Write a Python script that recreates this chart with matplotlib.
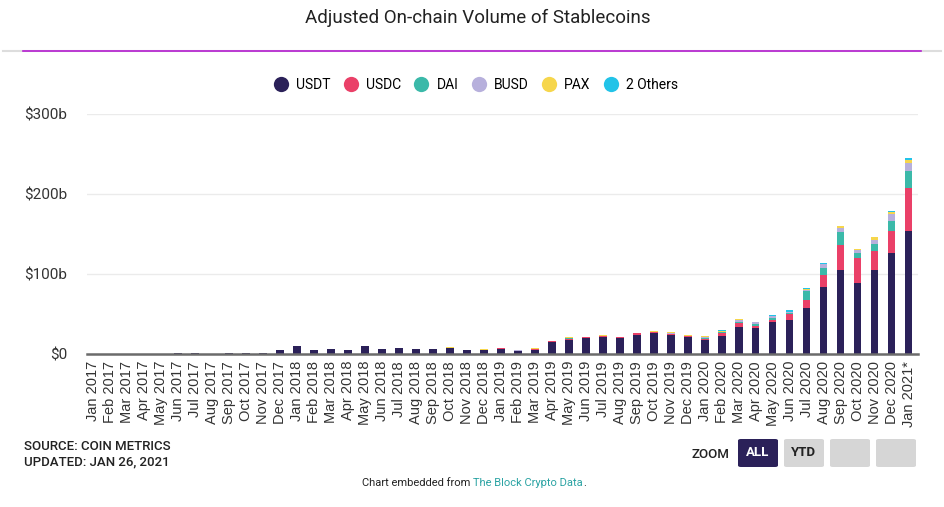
import matplotlib
matplotlib.use('Agg')
import matplotlib.pyplot as plt
from matplotlib.lines import Line2D
from matplotlib.patches import FancyBboxPatch
import numpy as np

plt.rcParams['font.family'] = ['Roboto', 'DejaVu Sans']

# months Jan 2017 .. Jan 2021 (partial)
months = ['Jan 2017', 'Feb 2017', 'Mar 2017', 'Apr 2017', 'May 2017', 'Jun 2017',
          'Jul 2017', 'Aug 2017', 'Sep 2017', 'Oct 2017', 'Nov 2017', 'Dec 2017',
          'Jan 2018', 'Feb 2018', 'Mar 2018', 'Apr 2018', 'May 2018', 'Jun 2018',
          'Jul 2018', 'Aug 2018', 'Sep 2018', 'Oct 2018', 'Nov 2018', 'Dec 2018',
          'Jan 2019', 'Feb 2019', 'Mar 2019', 'Apr 2019', 'May 2019', 'Jun 2019',
          'Jul 2019', 'Aug 2019', 'Sep 2019', 'Oct 2019', 'Nov 2019', 'Dec 2019',
          'Jan 2020', 'Feb 2020', 'Mar 2020', 'Apr 2020', 'May 2020', 'Jun 2020',
          'Jul 2020', 'Aug 2020', 'Sep 2020', 'Oct 2020', 'Nov 2020', 'Dec 2020',
          'Jan 2021*']

# volumes in $ billions
usdt = [0.05, 0.05, 0.05, 0.1, 0.1, 0.7, 0.7, 0.3, 0.7, 0.8, 0.8, 5.0,
        10.0, 5.0, 6.7, 5.0, 9.5, 6.7, 8.0, 6.7, 6.7, 8.0, 5.0, 4.6,
        6.0, 3.6, 5.5, 15.0, 18.0, 19.5, 21.0, 19.5, 24.0, 25.8, 24.0, 21.0,
        18.0, 22.0, 34.0, 33.0, 39.7, 42.7, 56.9, 83.7, 105.4, 88.3, 105.4, 126.0,
        154.0]
usdc = [0, 0, 0, 0, 0, 0, 0, 0, 0, 0, 0, 0,
        0, 0, 0, 0, 0, 0, 0, 0, 0, 0.1, 0.1, 0.4,
        1.0, 0.3, 1.2, 1.5, 1.3, 1.7, 1.5, 1.7, 1.8, 1.2, 1.0, 1.0,
        1.0, 4.0, 4.5, 2.5, 3.3, 7.1, 10.9, 15.0, 31.4, 31.7, 23.1, 28.0,
        54.0]
dai = [0, 0, 0, 0, 0, 0, 0, 0, 0, 0, 0, 0,
       0, 0, 0, 0, 0, 0, 0, 0, 0, 0, 0, 0,
       0.1, 0.2, 0.1, 0.1, 0.2, 0.1, 0.2, 0.1, 0.2, 0.5, 0.5, 0.5,
       1.0, 1.0, 2.0, 2.0, 2.6, 1.5, 10.4, 8.3, 15.5, 6.4, 8.7, 12.0,
       21.0]
busd = [0, 0, 0, 0, 0, 0, 0, 0, 0, 0, 0, 0,
        0, 0, 0, 0, 0, 0, 0, 0, 0, 0, 0, 0,
        0, 0.3, 0, 0, 0, 0, 0, 0, 0, 0, 0.2, 0.2,
        1.0, 1.0, 2.0, 2.0, 1.8, 1.0, 2.0, 5.0, 5.0, 3.3, 5.1, 9.0,
        9.5]
pax = [0, 0, 0, 0, 0, 0, 0, 0, 0, 0, 0, 0,
       0, 0, 0, 0, 0, 0, 0, 0, 0, 0.2, 0.1, 0.8,
       1.0, 0.5, 0.1, 0.1, 1.5, 0.1, 1.5, 0.1, 0.2, 1.5, 1.5, 1.3,
       1.5, 0.5, 1.5, 0.8, 0.5, 0.5, 1.4, 0.5, 2.1, 1.5, 4.1, 2.4,
       4.2]
others = [0, 0, 0, 0, 0, 0, 0, 0, 0, 0, 0, 0,
          0, 0, 0, 0, 0, 0, 0, 0, 0, 0, 0, 0,
          0, 0, 0, 0, 0, 0, 0, 0, 0, 0, 0.3, 0,
          0, 1.5, 0, 0, 0.6, 2.1, 0.4, 1.3, 0.2, 0.6, 0.2, 1.3,
          2.9]

series = [('USDT', usdt, '#2b2159'), ('USDC', usdc, '#ea4068'),
          ('DAI', dai, '#3bb9a9'), ('BUSD', busd, '#b7b0dc'),
          ('PAX', pax, '#f6d64c'), ('2 Others', others, '#22c3e8')]

fig = plt.figure(figsize=(9.45, 5.07), dpi=100)
ax = fig.add_axes([87 / 945, 1 - 354 / 507, (918 - 87) / 945, (354 - 114) / 507])

x = np.arange(len(months))
bottom = np.zeros(len(months))
for name, vals, col in series:
    vals = np.array(vals)
    ax.bar(x, vals, bottom=bottom, width=0.45, color=col, linewidth=0, zorder=3)
    bottom += vals

ax.set_ylim(0, 300)
ax.set_xlim(-0.34, 48.55)
ax.set_yticks([0, 100, 200, 300])
ax.set_yticklabels(['$0', '$100b', '$200b', '$300b'], fontsize=11, color='#333333')
ax.set_xticks(x)
ax.set_xticklabels(months, rotation=90, fontsize=10.5, color='#333333',
                   family=['Liberation Sans', 'DejaVu Sans'])
ax.tick_params(axis='y', length=0, pad=14)
ax.tick_params(axis='x', length=0, pad=5)
ax.grid(axis='y', color='#ebebeb', linewidth=1, zorder=0)
for s in ['top', 'right', 'left']:
    ax.spines[s].set_visible(False)
ax.spines['bottom'].set_color('#6b6b6b')
ax.spines['bottom'].set_linewidth(1.8)
ax.spines['bottom'].set_zorder(4)

# title + header rule
fig.text(478 / 945, 1 - 18 / 507, 'Adjusted On-chain Volume of Stablecoins',
         ha='center', va='center', fontsize=13.5, color='#222222')
fig.add_artist(Line2D([3 / 945, 941 / 945], [1 - 51 / 507] * 2, color='#dddddd', lw=1.5))
fig.add_artist(Line2D([23 / 945, 921 / 945], [1 - 50.5 / 507] * 2, color='#b51ed0', lw=1.2))

# legend
handles = [Line2D([], [], marker='o', linestyle='', markersize=11,
                  markerfacecolor=col, markeredgewidth=0, label=name)
           for name, vals, col in series]
fig.legend(handles=handles, loc='center', bbox_to_anchor=(476 / 945, 1 - 85 / 507),
           ncol=6, frameon=False, fontsize=10, handletextpad=0.6,
           columnspacing=0.95, handlelength=1.0)

# footer
fig.text(24 / 945, 1 - 447 / 507, 'SOURCE: COIN METRICS', fontsize=9.5,
         color='#222222', va='center', fontweight='medium')
fig.text(24 / 945, 1 - 462 / 507, 'UPDATED: JAN 26, 2021', fontsize=9.5,
         color='#222222', va='center', fontweight='medium')
fig.text(710 / 945, 1 - 454 / 507, 'ZOOM', fontsize=9.5, color='#222222',
         ha='center', va='center', fontweight='medium')

buttons = [(738, 'ALL', '#2b2159', 'white'), (784, 'YTD', '#d6d6d6', '#222222'),
           (830, '', '#d6d6d6', '#222222'), (876, '', '#d6d6d6', '#222222')]
for bx, lab, fc, tc in buttons:
    fig.add_artist(FancyBboxPatch((bx / 945, 1 - 467 / 507), 40 / 945, 28 / 507,
                                  boxstyle='round,pad=0,rounding_size=0.003',
                                  transform=fig.transFigure, facecolor=fc,
                                  edgecolor='none'))
    if lab:
        fig.text((bx + 20) / 945, 1 - 453 / 507, lab, fontsize=9.5, color=tc,
                 ha='center', va='center', fontweight='bold')

fig.text(473 / 945, 1 - 483 / 507, 'Chart embedded from ', fontsize=8,
         color='#222222', ha='right', va='center')
link = fig.text(473 / 945, 1 - 483 / 507, 'The Block Crypto Data', fontsize=8,
                color='#2aa3a3', ha='left', va='center')
ax.annotate('.', xy=(1, 0.5), xycoords=link, ha='left', va='center',
            fontsize=8, color='#222222', annotation_clip=False)

fig.savefig('out.png', dpi=100, facecolor='white')
